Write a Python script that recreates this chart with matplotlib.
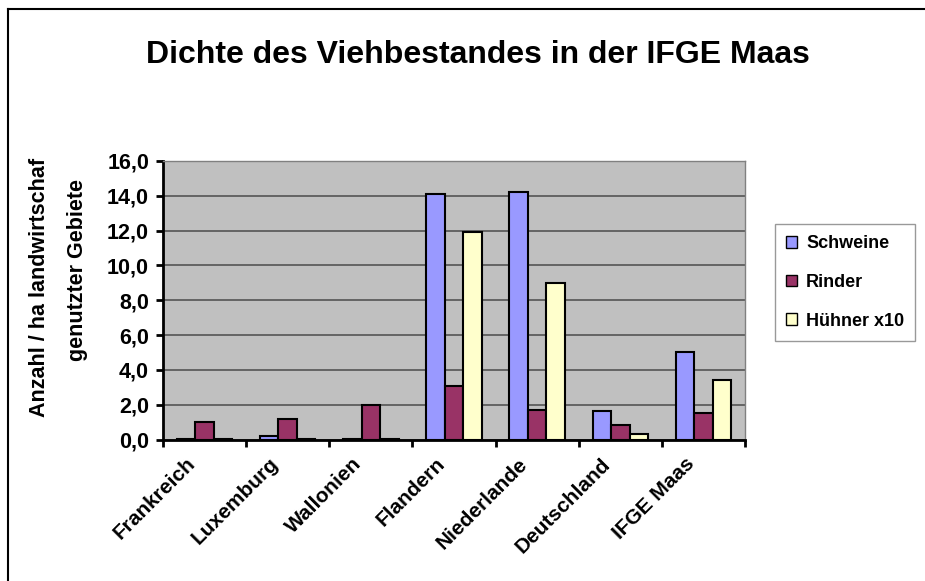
import matplotlib
matplotlib.use("Agg")
import matplotlib.pyplot as plt
from matplotlib.lines import Line2D
import numpy as np

plt.rcParams['font.family'] = ['Liberation Sans', 'DejaVu Sans']

categories = ["Frankreich", "Luxemburg", "Wallonien", "Flandern", "Niederlande", "Deutschland", "IFGE Maas"]
schweine = [0.05, 0.18, 0.05, 14.1, 14.2, 1.65, 5.0]
rinder = [0.98, 1.18, 2.0, 3.1, 1.72, 0.84, 1.5]
huehner = [0.05, 0.03, 0.05, 11.9, 9.0, 0.3, 3.4]
series_names = ["Schweine", "Rinder", "Hühner x10"]
yticks = [0, 2, 4, 6, 8, 10, 12, 14, 16]
ytick_labels = ["0,0", "2,0", "4,0", "6,0", "8,0", "10,0", "12,0", "14,0", "16,0"]

colors = ["#9999FF", "#993366", "#FFFFCC"]

W, H = 925, 581
fig = plt.figure(figsize=(W / 100, H / 100), dpi=100)
ax = fig.add_axes([163 / W, 1 - 439.5 / H, (745 - 163) / W, (439.5 - 161) / H])
ax.set_facecolor("#C0C0C0")

x = np.arange(len(categories))
bw = 1 / 4.5
for i, (vals, c, name) in enumerate(zip([schweine, rinder, huehner], colors, series_names)):
    ax.bar(x + 0.5 + (i - 1) * bw, vals, width=bw, color=c, edgecolor="black",
           linewidth=1.5, label=name, zorder=3)

ax.set_xlim(0, len(categories))
ax.set_ylim(0, 16)
ax.set_yticks(yticks)
ax.set_yticklabels(ytick_labels, fontsize=15.5, fontweight="bold")
ax.yaxis.grid(True, color="#555555", linewidth=1.2, zorder=1)
ax.set_axisbelow(True)

ax.set_xticks(np.arange(len(categories) + 1))
ax.set_xticklabels([])
for xi, name in zip(x, categories):
    ax.text(xi + 0.27, -0.85, name, rotation=45, ha="right", va="top",
            rotation_mode="anchor", fontsize=15, fontweight="bold")

for s in ["top", "right"]:
    ax.spines[s].set_color("#808080")
    ax.spines[s].set_linewidth(1)
for s in ["left", "bottom"]:
    ax.spines[s].set_color("black")
    ax.spines[s].set_linewidth(2)
ax.tick_params(axis="both", direction="out", length=5, width=2, color="black")
ax.tick_params(axis="y", pad=5)

fig.text(40 / W, 1 - 287 / H, "Anzahl / ha landwirtschaf", rotation=90, ha="center", va="center",
         fontsize=15.5, fontweight="bold")
fig.text(77 / W, 1 - 270 / H, "genutzter Gebiete", rotation=90, ha="center", va="center",
         fontsize=15.5, fontweight="bold")

fig.text(478 / W, 1 - 63 / H, "Dichte des Viehbestandes in der IFGE Maas", ha="center", va="baseline",
         fontsize=23, fontweight="bold")

leg = ax.legend(loc="upper left", bbox_to_anchor=(775 / W, 1 - 224 / H), bbox_transform=fig.transFigure,
                frameon=True, fancybox=False, edgecolor="#808080",
                prop={"weight": "bold", "size": 13}, handlelength=0.6, handleheight=0.6,
                labelspacing=1.2, borderpad=0.62, handletextpad=0.5, borderaxespad=0)
leg.get_frame().set_linewidth(1)
for h in leg.legend_handles:
    h.set_linewidth(1)

# figure frame (top and left edges)
fig.add_artist(Line2D([8 / W, 8 / W], [0, 1 - 9 / H], transform=fig.transFigure, color="black", linewidth=1.5))
fig.add_artist(Line2D([8 / W, 1], [1 - 9 / H, 1 - 9 / H], transform=fig.transFigure, color="black", linewidth=1.5))

fig.savefig("out.png", dpi=100)
